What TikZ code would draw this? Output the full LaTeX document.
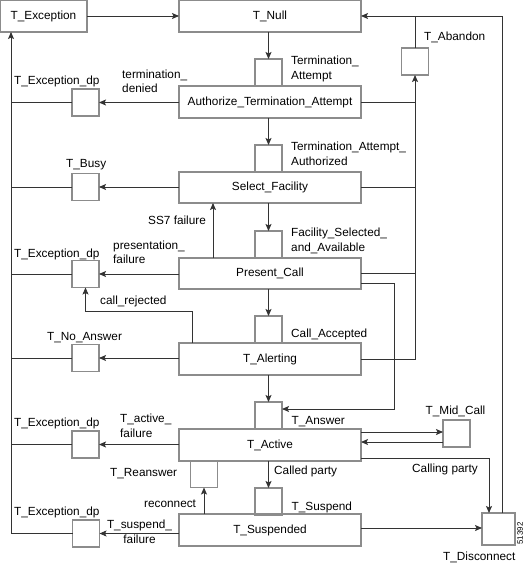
\documentclass[tikz,border=0pt]{standalone}
\usepackage{fontspec}
\setmainfont{Liberation Sans}
\usetikzlibrary{arrows.meta}
\begin{document}
\begin{tikzpicture}[x=1pt,y=-1pt,
  font=\fontsize{11.8}{14.5}\selectfont,
  bigbox/.style={draw=black!45,line width=1.2pt,minimum width=182pt,minimum height=32pt,inner sep=0pt,outer sep=0pt},
  smallbox/.style={draw=black!45,line width=1.2pt,minimum width=27pt,minimum height=27pt,inner sep=0pt,outer sep=0pt},
  conn/.style={draw=black!80,line width=0.9pt},
  arr/.style={conn,-{Stealth[length=7pt,width=6pt,inset=1.5pt]}},
  lbl/.style={inner sep=0pt,anchor=base west},
  lbl2/.style={inner sep=0pt,anchor=north west,align=left}]
\useasboundingbox (0,0) rectangle (527,564);
% big boxes
\node[bigbox,minimum width=87pt] (exc) at (43.5,16) {T\_Exception};
\node[bigbox] (null) at (270,16) {T\_Null};
\node[bigbox] (auth) at (270,102) {Authorize\_Termination\_Attempt};
\node[bigbox,minimum height=31pt] (sel) at (270,187.5) {Select\_Facility};
\node[bigbox,minimum height=31pt] (pres) at (270,273.5) {Present\_Call};
\node[bigbox] (alert) at (270,359) {T\_Alerting};
\node[bigbox] (act) at (270,445) {T\_Active};
\node[bigbox] (susp) at (270,530) {T\_Suspended};
% small boxes
\node[smallbox] (ta) at (268.5,72.5) {};
\node[smallbox] (taa) at (268.5,158.5) {};
\node[smallbox] (fsa) at (268.5,244.5) {};
\node[smallbox] (ca) at (268.5,329.5) {};
\node[smallbox] (ans) at (268.5,415.5) {};
\node[smallbox] (sus) at (268.5,501.5) {};
\node[smallbox] (ed1) at (85.5,102.5) {};
\node[smallbox] (busy) at (85.5,187) {};
\node[smallbox] (ed2) at (85.5,274) {};
\node[smallbox] (noans) at (85.5,358) {};
\node[smallbox] (ed3) at (85.5,444.5) {};
\node[smallbox] (ed4) at (86,533.5) {};
\node[smallbox] (aband) at (415,61.5) {};
\node[smallbox] (reans) at (204,474) {};
\node[smallbox] (mid) at (456.5,433.5) {};
\node[smallbox,minimum width=33pt,minimum height=32pt] (disc) at (498.5,529) {};
% coordinates
\coordinate (lft) at (11,32);
\coordinate (crk) at (85.5,311);
\coordinate (pcr) at (394,409);
% main flow
\draw[arr] (exc.east) -- (null.west);
\draw[arr] (null.south -| ta) -- (ta.north);
\draw[arr] (auth.south -| taa) -- (taa.north);
\draw[arr] (sel.south -| fsa) -- (fsa.north);
\draw[arr] (pres.south -| ca) -- (ca.north);
\draw[arr] (alert.south -| ans) -- (ans.north);
\draw[arr] (act.south -| sus) -- (sus.north);
% left exceptions
\draw[arr] (auth.west |- ed1) -- (ed1.east);
\draw[arr] (sel.west |- busy) -- (busy.east);
\draw[arr] (pres.west |- ed2) -- (ed2.east);
\draw[arr] (alert.west |- noans) -- (noans.east);
\draw[arr] (act.west |- ed3) -- (ed3.east);
\draw[arr] (susp.west |- ed4) -- (ed4.east);
\draw[arr] (ed4.west) -| (lft);
\draw[conn] (ed1.west) -- (ed1.west -| lft);
\draw[conn] (busy.west) -- (busy.west -| lft);
\draw[conn] (ed2.west) -- (ed2.west -| lft);
\draw[conn] (noans.west) -- (noans.west -| lft);
\draw[conn] (ed3.west) -- (ed3.west -| lft);
% abandon
\draw[arr] (alert.east) -| (aband.south);
\draw[conn] (auth.east) -- (auth.east -| aband);
\draw[conn] (sel.east) -- (sel.east -| aband);
\draw[conn] ([yshift=0.5pt]pres.east) -- ([yshift=0.5pt]pres.east -| aband);
\draw[conn] (aband.north) -- (aband.north |- null.east);
% disconnect back to null
\draw[arr] ([xshift=3.5pt]disc.north) |- (null.east);
% SS7 failure
\draw[arr] ([xshift=-57pt]pres.north) -- ([xshift=-57pt]sel.south);
% call rejected
\draw[arr] ([xshift=-77.5pt]alert.north) |- (crk) -- (ed2.south);
% present call to answer
\draw[arr] ([yshift=-9.5pt]pres.east) -| (pcr) -- (pcr -| ans.east);
% mid call
\draw[arr] ([yshift=13pt]act.east) -- ([yshift=13pt]act.east -| mid.west);
\draw[arr] ([yshift=3pt]act.east -| mid.west) -- ([yshift=3pt]act.east);
% calling party
\draw[arr] ([yshift=-13pt]act.east) -| ([xshift=-9.5pt]disc.north);
% suspended to disconnect
\draw[arr] ([yshift=2pt]susp.east) -- ([yshift=2pt]susp.east -| disc.west);
% reconnect
\draw[arr] (susp.north -| reans) -- (reans.south);
% labels
\node[lbl2] (l1) at (291,56) {Termination\_\\Attempt};
\node[lbl2] (l2) at (122,69.5) {termination\_\\denied};
\node[lbl2] (l3) at (291,142) {Termination\_Attempt\_\\Authorized};
\node[lbl2] (l4) at (291,228) {Facility\_Selected\_\\and\_Available};
\node[lbl2] (l5) at (113,240.5) {presentation\_\\failure};
\node[lbl2] (l6) at (120,414) {T\_active\_\\failure};
\node[inner sep=0pt,anchor=north,align=center] (l7) at (139.5,520) {T\_suspend\_\\failure};
\node[lbl] (e1) at (14,84.4) {T\_Exception\_dp};
\node[lbl] (e2) at (14,257.4) {T\_Exception\_dp};
\node[lbl] (e3) at (14,426.4) {T\_Exception\_dp};
\node[lbl] (e4) at (14,515.4) {T\_Exception\_dp};
\node[lbl] (lb) at (66,167.4) {T\_Busy};
\node[lbl] (lab) at (424,40.4) {T\_Abandon};
\node[lbl] (ls7) at (148,224.4) {SS7 failure};
\node[lbl] (lcr) at (100,304.4) {call\_rejected};
\node[lbl] (lna) at (47,340.4) {T\_No\_Answer};
\node[lbl] (lca) at (291,337.4) {Call\_Accepted};
\node[lbl] (lan) at (291.5,424.4) {T\_Answer};
\node[lbl] (lmc) at (425.5,414.4) {T\_Mid\_Call};
\node[lbl] (lcd) at (274,474.4) {Called party};
\node[lbl] (lcg) at (412,472.4) {Calling party};
\node[lbl] (lra) at (110,476.4) {T\_Reanswer};
\node[lbl] (lrc) at (144,507.6) {reconnect};
\node[lbl] (lsu) at (291.5,510.4) {T\_Suspend};
\node[lbl] (ldi) at (443,560.5) {T\_Disconnect};
\node[inner sep=0pt,rotate=90,font=\fontsize{8}{9}\selectfont] (num) at (520,533.5) {51392};
\end{tikzpicture}
\end{document}
